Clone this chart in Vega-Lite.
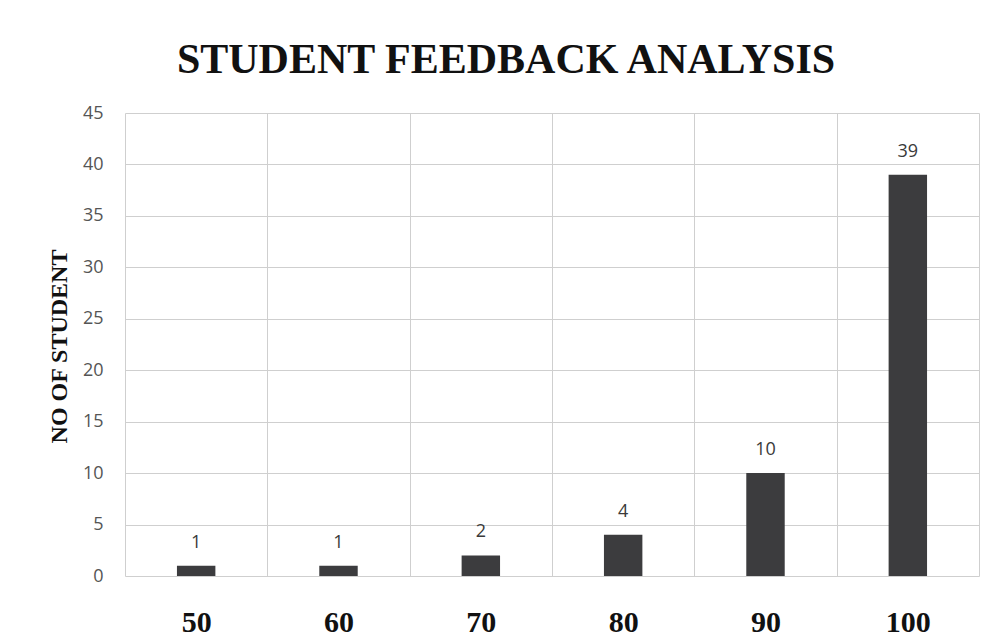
{
  "$schema": "https://vega.github.io/schema/vega-lite/v6.json",
  "autosize": {"type": "none"},
  "width": 854,
  "height": 463,
  "padding": {"left": 125, "top": 113, "right": 17, "bottom": 60},
  "background": "white",
  "title": {
    "text": "STUDENT FEEDBACK ANALYSIS",
    "font": "Liberation Serif",
    "fontWeight": "bold",
    "fontSize": 42,
    "color": "#111111",
    "anchor": "middle",
    "frame": "group",
    "baseline": "alphabetic",
    "offset": 41,
    "dx": -46,
    "dy": 52
  },
  "data": {
    "values": [
      {"score": "50", "students": 1},
      {"score": "60", "students": 1},
      {"score": "70", "students": 2},
      {"score": "80", "students": 4},
      {"score": "90", "students": 10},
      {"score": "100", "students": 39}
    ]
  },
  "encoding": {
    "x": {
      "field": "score",
      "type": "ordinal",
      "sort": null,
      "scale": {"paddingInner": 0, "paddingOuter": 0},
      "axis": {
        "title": null,
        "labelAngle": 0,
        "labelFont": "Liberation Serif",
        "labelFontWeight": "bold",
        "labelFontSize": 30,
        "labelColor": "#111111",
        "labelBaseline": "alphabetic",
        "labelPadding": 55,
        "ticks": false,
        "domain": false,
        "grid": true,
        "tickBand": "extent",
        "gridColor": "#cfcfcf",
        "gridWidth": 1
      }
    },
    "y": {
      "field": "students",
      "type": "quantitative",
      "scale": {"domain": [0, 45], "nice": false},
      "axis": {
        "title": "NO OF STUDENT",
        "titleFont": "Liberation Serif",
        "titleFontWeight": "bold",
        "titleFontSize": 24,
        "titleColor": "#111111",
        "titleAngle": -90,
        "titleX": -66,
        "titleY": 233,
        "titleBaseline": "middle",
        "titleAlign": "center",
        "values": [0, 5, 10, 15, 20, 25, 30, 35, 40, 45],
        "labelFont": "Open Sans",
        "labelFontSize": 18,
        "labelColor": "#555555",
        "labelPadding": 22,
        "ticks": false,
        "domain": false,
        "grid": true,
        "gridColor": "#cfcfcf",
        "gridWidth": 1
      }
    }
  },
  "layer": [
    {
      "mark": {"type": "bar", "color": "#3c3c3e", "width": {"band": 0.27}}
    },
    {
      "mark": {
        "type": "text",
        "font": "Open Sans",
        "fontSize": 18,
        "color": "#3a3a3a",
        "baseline": "alphabetic",
        "dy": -18
      },
      "encoding": {"text": {"field": "students", "type": "quantitative"}}
    }
  ],
  "config": {"view": {"stroke": null}}
}
